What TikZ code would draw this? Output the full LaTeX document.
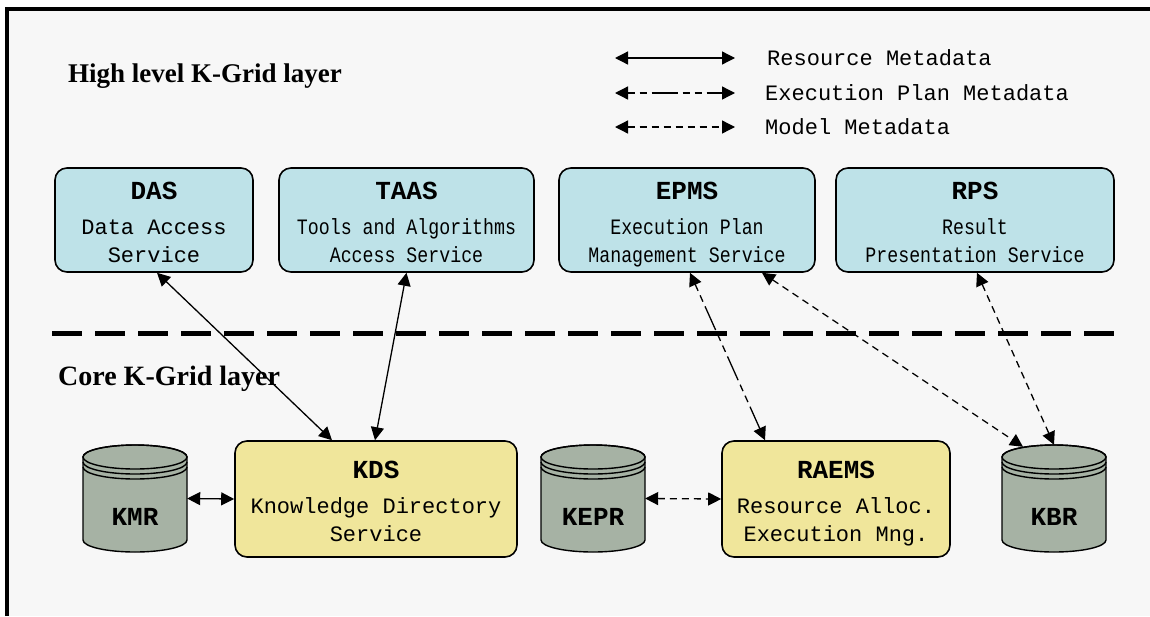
\documentclass[tikz,border=0pt]{standalone}
\usepackage{fontspec}
\setmainfont{Liberation Serif}
\setmonofont{Liberation Mono}
\usepackage{graphicx}
\usetikzlibrary{arrows.meta, positioning}

\definecolor{bgcol}{RGB}{247,247,247}
\definecolor{highcol}{RGB}{190,226,232}
\definecolor{corecol}{RGB}{240,230,155}
\definecolor{repocol}{RGB}{166,178,164}

\newcommand{\squeeze}[1]{\scalebox{0.83}[1]{#1}}
\newcommand{\ttl}[1]{{\fontsize{26}{28}\selectfont\bfseries\rule{0pt}{22pt}#1}}
\newcommand{\lastline}[1]{\smash{#1}}

\tikzset{
    highbox/.style={draw, line width=1.6pt, rounded corners=12pt, fill=highcol, minimum height=104pt,
        align=center, inner sep=0pt, font=\ttfamily\fontsize{22}{28}\selectfont},
    corebox/.style={highbox, fill=corecol, minimum height=116pt},
    repo/.style={minimum width=104pt, minimum height=107pt, inner sep=0pt},
    repoline/.style={line width=1.4pt},
    repotext/.style={font=\ttfamily\bfseries\fontsize{26}{28}\selectfont, inner sep=0pt},
    layertext/.style={font=\bfseries\fontsize{27}{30}\selectfont, inner sep=0pt},
    legendtext/.style={font=\ttfamily\fontsize{22}{26}\selectfont, inner sep=0pt},
    resarrow/.style={<->, line width=1.3pt},
    planarrow/.style={resarrow, dash pattern=on 7pt off 5pt on 7pt off 5pt on 26pt off 5pt},
    modelarrow/.style={resarrow, dash pattern=on 7pt off 5pt},
    layerline/.style={line width=5pt, dash pattern=on 30pt off 13pt}
}

\begin{document}
\begin{tikzpicture}[x=1pt, y=-1pt, >={Triangle[length=13pt,width=13pt]}]

    \useasboundingbox (0,0) rectangle (1150,616);
    \fill[white] (0,0) rectangle (1150,616);
    \fill[bgcol] (7,9) rectangle (1150,616);
    \draw[line width=3.5pt] (7,616) -- (7,9) -- (1150,9);

%____________________________________________________________________________________________________
    \node[layertext, anchor=base west] (hightitle) at (68,82) {High level K-Grid layer};

    \coordinate (res-a) at (615,58);
    \coordinate (res-b) at (735,58);
    \node[legendtext, anchor=base west] (restext) at (767,65) {Resource Metadata};

    \coordinate (plan-a) at (615,93);
    \coordinate (plan-b) at (735,93);
    \node[legendtext, anchor=base west] (plantext) at (765,100) {Execution Plan Metadata};

    \coordinate (model-a) at (615,127);
    \coordinate (model-b) at (735,127);
    \node[legendtext, anchor=base west] (modeltext) at (765,134) {Model Metadata};

    \node[highbox, minimum width=198pt] (das) at (154,220) {\ttl{DAS}\\[7pt]Data Access\\\lastline{Service}};
    \node[highbox, minimum width=255pt] (taas) at (406.5,220) {\ttl{TAAS}\\[7pt]\squeeze{Tools and Algorithms}\\\lastline{\squeeze{Access Service}}};
    \node[highbox, minimum width=256pt] (epms) at (687,220) {\ttl{EPMS}\\[7pt]\squeeze{Execution Plan}\\\lastline{\squeeze{Management Service}}};
    \node[highbox, minimum width=278pt] (rps) at (975,220) {\ttl{RPS}\\[7pt]\squeeze{Result}\\\lastline{\squeeze{Presentation Service}}};

%____________________________________________________________________________________________________
    \draw[layerline] (52,333) -- (1120,333);
    \node[layertext, font=\bfseries\fontsize{28}{30}\selectfont, anchor=base west] (coretitle) at (58,385) {Core K-Grid layer};

    \foreach \nm/\cx/\lbl in {kmr/135/KMR, kepr/593/KEPR, kbr/1054/KBR}{
        \filldraw[repoline, fill=repocol] ({\cx-52},457) -- ({\cx-52},540)
            arc[start angle=180, end angle=0, x radius=52, y radius=12] -- ({\cx+52},457)
            arc[start angle=0, end angle=-180, x radius=52, y radius=12] -- cycle;
        \draw[repoline] (\cx,457) ellipse [x radius=52, y radius=12];
        \draw[repoline] ({\cx-52},462) arc[start angle=180, end angle=0, x radius=52, y radius=12];
        \draw[repoline] ({\cx-52},467) arc[start angle=180, end angle=0, x radius=52, y radius=12];
        \node[repo] (\nm) at (\cx,498.5) {};
        \node[repotext, anchor=base] (\nm-text) at (\cx,525) {\lbl};
    }

    \node[corebox, minimum width=282pt] (kds) at (376,499) {\ttl{KDS}\\[7pt]Knowledge Directory\\\lastline{Service}};
    \node[corebox, minimum width=228pt] (raems) at (836,499) {\ttl{RAEMS}\\[7pt]Resource Alloc.\\\lastline{Execution Mng.}};

%____________________________________________________________________________________________________
    \draw[resarrow] (res-a) -- (res-b);
    \draw[planarrow] (plan-a) -- (plan-b);
    \draw[modelarrow] (model-a) -- (model-b);

    \draw[resarrow] ([xshift=3pt]das.south) -- ([xshift=-44pt]kds.north);
    \draw[resarrow] (taas.south) -- ([xshift=-1pt]kds.north);
    \draw[resarrow] (kmr.east) -- (kds.west);
    \draw[modelarrow] (kepr.east) -- (raems.west);
    \draw[planarrow] ([xshift=3pt]epms.south) -- ([xshift=-71pt]raems.north);
    \draw[modelarrow] ([xshift=75pt]epms.south) -- ([xshift=-31pt,yshift=-2pt]kbr.north);
    \draw[modelarrow] ([xshift=2pt]rps.south) -- (kbr.north);
\end{tikzpicture}
\end{document}
